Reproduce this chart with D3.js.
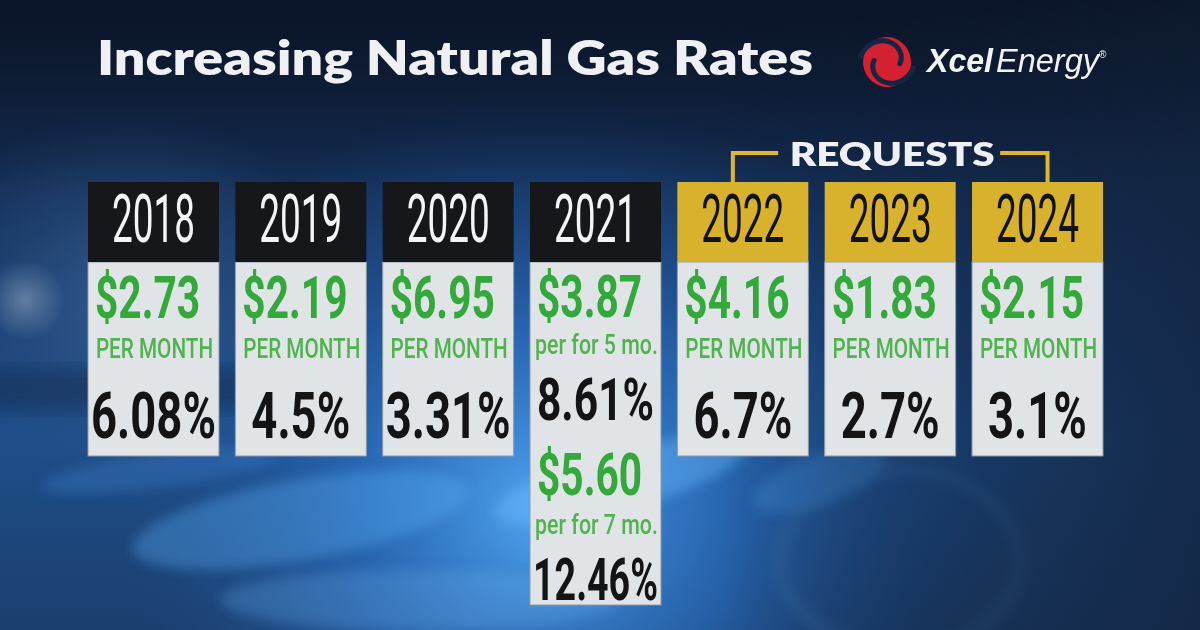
<!DOCTYPE html>
<html><head><meta charset="utf-8">
<script src="https://cdn.jsdelivr.net/npm/d3@7"></script>
<style>html,body{margin:0;padding:0;background:#0f1d36;overflow:hidden} svg{display:block}</style>
</head><body>
<svg id="chart" width="1200" height="630"></svg>
<script>
// ---------- data ----------
const titleText = "Increasing Natural Gas Rates";
const bracketLabel = "REQUESTS";
const years = ["2018", "2019", "2020", "2021", "2022", "2023", "2024"];
const isRequest = [false, false, false, false, true, true, true];
const monthlyIncrease = ["$2.73", "$2.19", "$6.95", "$3.87", "$4.16", "$1.83", "$2.15"];
const increaseUnit = ["PER MONTH", "PER MONTH", "PER MONTH", "per for 5 mo.", "PER MONTH", "PER MONTH", "PER MONTH"];
const percentIncrease = ["6.08%", "4.5%", "3.31%", "8.61%", "6.7%", "2.7%", "3.1%"];
const secondYears = ["2021"];
const secondIncrease = ["$5.60"];
const secondUnit = ["per for 7 mo."];
const secondPercent = ["12.46%"];

// ---------- setup ----------
const W = 1200, H = 630;
const svg = d3.select("#chart");
const defs = svg.append("defs");

function linGrad(id, x1, y1, x2, y2, stops) {
  const g = defs.append("linearGradient").attr("id", id)
    .attr("x1", x1).attr("y1", y1).attr("x2", x2).attr("y2", y2);
  stops.forEach(s => g.append("stop").attr("offset", s[0]).attr("stop-color", s[1]).attr("stop-opacity", s[2] == null ? 1 : s[2]));
}
function radGrad(id, cx, cy, r, stops) {
  const g = defs.append("radialGradient").attr("id", id)
    .attr("gradientUnits", "userSpaceOnUse").attr("cx", cx).attr("cy", cy).attr("r", r);
  stops.forEach(s => g.append("stop").attr("offset", s[0]).attr("stop-color", s[1]).attr("stop-opacity", s[2] == null ? 1 : s[2]));
}
linGrad("bgV", 0, 0, 0, 1, [[0, "#0e1a30"], [0.22, "#13294c"], [0.45, "#193c6e"], [0.7, "#1e4e8a"], [1, "#1b3f6e"]]);
radGrad("glow1", 540, 510, 420, [[0, "#52a9f6", 0.95], [0.45, "#2f78cf", 0.6], [1, "#1d4c88", 0]]);
radGrad("glow2", 130, 300, 200, [[0, "#3f6a9c", 0.7], [1, "#2a4f7e", 0]]);
radGrad("spot", 25, 300, 40, [[0, "#8aa1bb", 0.6], [1, "#8aa1bb", 0]]);
linGrad("rightDark", 0, 0, 1, 0, [[0.6, "#0f1d36", 0], [1, "#132540", 0.85]]);
linGrad("topDark", 0, 0, 0, 1, [[0, "#0a1325", 0.7], [0.3, "#0a1325", 0]]);
defs.append("filter").attr("id", "blur").attr("x", "-50%").attr("y", "-50%").attr("width", "200%").attr("height", "200%")
  .append("feGaussianBlur").attr("stdDeviation", 14);
defs.append("filter").attr("id", "blur2").attr("x", "-50%").attr("y", "-50%").attr("width", "200%").attr("height", "200%")
  .append("feGaussianBlur").attr("stdDeviation", 6);

// ---------- background ----------
const bg = svg.append("g");
bg.append("rect").attr("width", W).attr("height", H).attr("fill", "url(#bgV)");
bg.append("rect").attr("width", W).attr("height", H).attr("fill", "url(#glow2)");
bg.append("rect").attr("width", W).attr("height", H).attr("fill", "url(#glow1)");
bg.append("rect").attr("width", W).attr("height", H).attr("fill", "url(#spot)");
const petals = bg.append("g").attr("filter", "url(#blur2)");
[[300, 520, 170, 40, -10, "#5db0f7", 0.35], [620, 480, 130, 30, -15, "#6cbcff", 0.4],
 [820, 480, 70, 25, -20, "#4a9ef0", 0.3], [420, 600, 200, 30, 0, "#6ab4f5", 0.25],
 [160, 470, 120, 18, -8, "#3e86d6", 0.3]].forEach(p => {
  petals.append("ellipse").attr("cx", p[0]).attr("cy", p[1]).attr("rx", p[2]).attr("ry", p[3])
    .attr("transform", `rotate(${p[4]},${p[0]},${p[1]})`).attr("fill", p[5]).attr("opacity", p[6]);
});
bg.append("rect").attr("x", -20).attr("y", 375).attr("width", 300).attr("height", 28)
  .attr("fill", "#0f2442").attr("opacity", 0.6).attr("filter", "url(#blur)");
bg.append("ellipse").attr("cx", 900).attr("cy", 560).attr("rx", 120).attr("ry", 90)
  .attr("fill", "none").attr("stroke", "#3a6fa8").attr("stroke-width", 14).attr("opacity", 0.35).attr("filter", "url(#blur2)");
bg.append("rect").attr("width", W).attr("height", H).attr("fill", "url(#rightDark)");
bg.append("rect").attr("width", W).attr("height", H).attr("fill", "url(#topDark)");

// ---------- title ----------
svg.append("text").attr("x", 97).attr("y", 75)
  .attr("textLength", 716).attr("lengthAdjust", "spacingAndGlyphs")
  .style("font-family", "Lato, 'Open Sans', sans-serif").style("font-weight", 800)
  .style("font-size", "47px").attr("fill", "#eef0f3").text(titleText);

// ---------- logo ----------
const logo = svg.append("g").attr("transform", "translate(887,62) rotate(-8)");
logo.append("ellipse").attr("rx", 24).attr("ry", 25).attr("fill", "#d42030");
const spiral = d3.line().curve(d3.curveCatmullRom);
function slit(rot) {
  const pts = d3.range(0, 1.0001, 0.1).map(t => {
    const a = (200 + 175 * t + rot) * Math.PI / 180;
    const r = 27 - 14 * t;
    return [r * Math.cos(a), r * Math.sin(a)];
  });
  return spiral(pts);
}
logo.append("path").attr("d", slit(0)).attr("fill", "none").attr("stroke", "#132642").attr("stroke-width", 5).attr("stroke-linecap", "round");
logo.append("path").attr("d", slit(180)).attr("fill", "none").attr("stroke", "#132642").attr("stroke-width", 5).attr("stroke-linecap", "round");

const logoText = svg.append("text").attr("x", 927).attr("y", 72)
  .style("font-family", "'Liberation Sans', Arial, sans-serif").style("font-size", "33px")
  .style("font-style", "italic").attr("fill", "#f2f3f5");
logoText.append("tspan").style("font-weight", 700).attr("textLength", 66).attr("lengthAdjust", "spacingAndGlyphs").text("Xcel");
logoText.append("tspan").attr("dx", 3).style("font-weight", 400).attr("textLength", 103).attr("lengthAdjust", "spacingAndGlyphs").text("Energy");
logoText.append("tspan").attr("dy", -14).style("font-size", "10px").style("font-style", "normal").text("®");

// ---------- columns ----------
const x = d3.scaleBand().domain(years).range([88, 1103]).paddingInner(0.111);
const bw = x.bandwidth();
const headerTop = 182, headerBottom = 262;
const bottomScale = d3.scaleLinear().domain([1, 2]).range([456, 605]);

const cols = years.map((yr, i) => {
  const k = secondYears.indexOf(yr);
  return {
    year: yr, req: isRequest[i],
    entries: [{ dollar: monthlyIncrease[i], unit: increaseUnit[i], pct: percentIncrease[i] }]
      .concat(k >= 0 ? [{ dollar: secondIncrease[k], unit: secondUnit[k], pct: secondPercent[k] }] : [])
  };
});

function ctext(g, str, tx, ty, sx, anchor, family, weight, size, fill, maxW) {
  const t = g.append("text")
    .attr("text-anchor", anchor).style("font-family", family).style("font-weight", weight)
    .style("font-size", size + "px").attr("fill", fill).text(str);
  let s = sx;
  if (maxW) {
    const w = t.node().getComputedTextLength();
    if (w * s > maxW) s = maxW / w;
  }
  t.attr("transform", `translate(${tx},${ty}) scale(${s},1)`);
  return t;
}
const F = "Roboto, 'Open Sans', sans-serif";

const colG = svg.selectAll("g.col").data(cols).join("g").attr("class", "col")
  .attr("transform", d => `translate(${x(d.year)},0)`);

colG.append("rect").attr("x", 0).attr("y", headerBottom).attr("width", bw)
  .attr("height", d => bottomScale(d.entries.length) - headerBottom)
  .attr("fill", "#e1e4e7").attr("stroke", "#8d9aa8").attr("stroke-width", 1);
colG.append("rect").attr("x", 0).attr("y", headerTop).attr("width", bw)
  .attr("height", headerBottom - headerTop)
  .attr("fill", d => d.req ? "#d9b22d" : "#15171b");

colG.each(function (d) {
  const g = d3.select(this);
  ctext(g, d.year, bw / 2, 242, 0.56, "middle", F, 400, 66, d.req ? "#121212" : "#f4f4f4");
  const multi = d.entries.length > 1;
  // [dollar baseline, unit baseline, pct baseline, pct size]
  const layouts = multi ? [[317, 354, 420, 60], [495, 534, 600, 60]] : [[318, 358, 438, 64]];
  d.entries.forEach((e, j) => {
    const L = layouts[j];
    ctext(g, e.dollar, 7, L[0], 0.69, "start", F, 700, 59, "#33a83b", bw - 12);
    const lower = e.unit !== e.unit.toUpperCase();
    ctext(g, e.unit, bw / 2 + 1, L[1], lower ? 0.79 : 0.74, "middle", F, 500, lower ? 27 : 28, "#50b350", bw - 8);
    ctext(g, e.pct, bw / 2, L[2], 0.71, "middle", F, 700, L[3], "#141414", bw - 6);
  });
});

// ---------- requests bracket ----------
const reqYears = years.filter((y, i) => isRequest[i]);
const bl = x(reqYears[0]) + bw / 2 - 10;
const br = x(reqYears[reqYears.length - 1]) + bw / 2 + 10;
const bmid = (bl + br) / 2;
const by = 153;
svg.append("path").attr("fill", "none").attr("stroke", "#e3b62a").attr("stroke-width", 4)
  .attr("d", `M${bl},${headerTop}V${by}H${bmid - 112}M${bmid + 110},${by}H${br}V${headerTop}`);
svg.append("text").attr("x", bmid + 2).attr("y", 166).attr("text-anchor", "middle")
  .attr("textLength", 205).attr("lengthAdjust", "spacingAndGlyphs")
  .style("font-family", "Lato, 'Open Sans', sans-serif").style("font-weight", 800)
  .style("font-size", "32px").attr("fill", "#eef0f3").text(bracketLabel);
</script>
</body></html>
